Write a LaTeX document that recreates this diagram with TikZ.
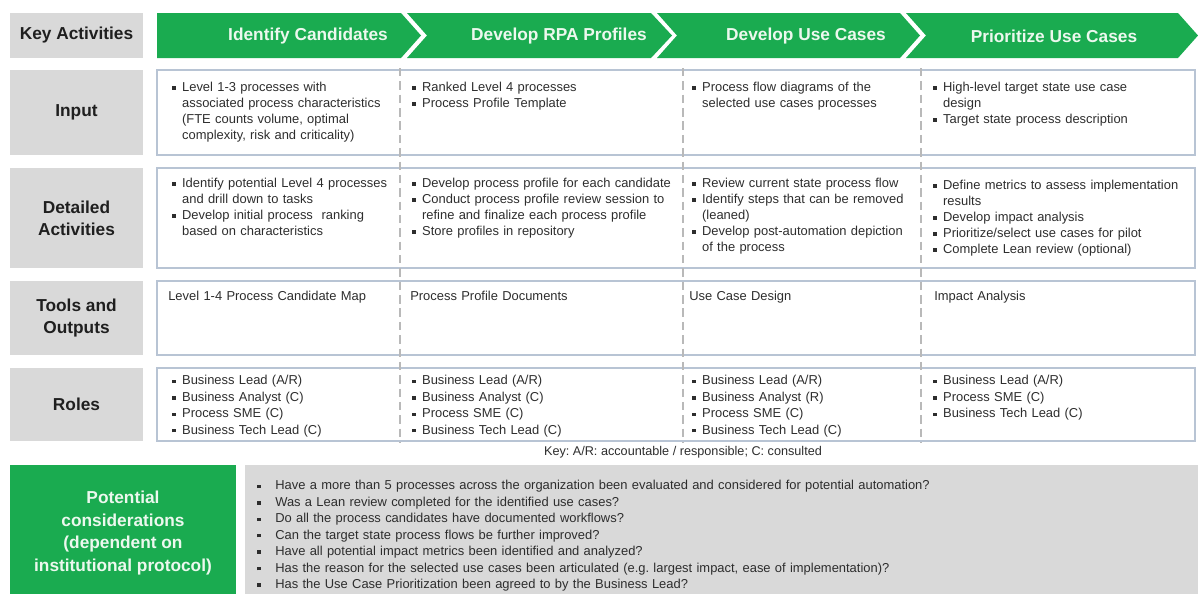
\documentclass[tikz,border=0pt]{standalone}
\usepackage{fontspec}
\setmainfont{Liberation Sans}
\usepackage{xcolor}
\definecolor{rpagreen}{RGB}{26,171,80}
\definecolor{rpagray}{RGB}{217,217,217}
\definecolor{rpaline}{RGB}{184,196,212}
\definecolor{rpatext}{RGB}{45,45,45}
\definecolor{rpahead}{RGB}{236,248,238}
\frenchspacing
\newcommand{\bitem}[1]{\par\hangindent=7pt\hangafter=1\noindent\makebox[7pt][l]{\raisebox{1.2pt}{\rule{2.4pt}{2.4pt}}}#1}
\newcommand{\qitem}[1]{\par\hangindent=12.8pt\hangafter=1\noindent\makebox[12.8pt][l]{\raisebox{1.2pt}{\rule{2.4pt}{2.4pt}}}#1}

\begin{document}
\begin{tikzpicture}[x=0.025cm,y=-0.025cm,
  lab/.style={font=\fontsize{12.3}{15.6}\selectfont\bfseries, align=center, text=black!88},
  head/.style={font=\fontsize{12.3}{15}\selectfont\bfseries, text=rpahead},
  cell/.style={anchor=north west, inner sep=0pt, text width=7cm, font=\fontsize{9.2}{11.4}\selectfont, text=rpatext},
  rowbox/.style={draw=rpaline, line width=0.85pt},
  divider/.style={draw=gray!55, line width=1pt, dash pattern=on 6pt off 3.5pt}]
\useasboundingbox (0,0) rectangle (1198,594);

\fill [rpagreen] (157,13) -- (401,13) -- (421,35.5) -- (401,58) -- (157,58) -- cycle;
\fill [rpagreen] (407,13) -- (651,13) -- (672,35.5) -- (651,58) -- (407,58) -- (427,35.5) -- cycle;
\fill [rpagreen] (657,13) -- (900,13) -- (920,35.5) -- (900,58) -- (657,58) -- (677,35.5) -- cycle;
\fill [rpagreen] (906,13) -- (1178,13) -- (1198,35.5) -- (1178,58) -- (906,58) -- (926,35.5) -- cycle;
\node [head] (identify) at (308,36) {Identify Candidates};
\node [head] (profiles) at (559,36) {Develop RPA Profiles};
\node [head] (usecases) at (806,36) {Develop Use Cases};
\node [head] (prioritize) at (1054,36) {Prioritize Use Cases};

\fill [rpagray] (10,13) rectangle (143,58);
\fill [rpagray] (10,70) rectangle (143,155);
\fill [rpagray] (10,168) rectangle (143,268);
\fill [rpagray] (10,281) rectangle (143,355);
\fill [rpagray] (10,368) rectangle (143,441);
\node [lab] (keyact) at (76.5,35.5) {Key Activities};
\node [lab] (input) at (76.5,112.5) {Input};
\node [lab] (detailed) at (76.5,218) {Detailed\\Activities};
\node [lab] (tools) at (76.5,318) {Tools and\\Outputs};
\node [lab] (roles) at (76.5,404.5) {Roles};

\draw [rowbox] (157,70) rectangle (1195,155);
\draw [rowbox] (157,168) rectangle (1195,268);
\draw [rowbox] (157,281) rectangle (1195,355);
\draw [rowbox] (157,368) rectangle (1195,441);
\draw [divider] (400,68) -- (400,443);
\draw [divider] (683,68) -- (683,443);
\draw [divider] (921,68) -- (921,443);

\node [cell] (in1) at (172,75) {\bitem{Level 1-3 processes with\newline associated process characteristics\newline (FTE counts volume, optimal\newline complexity, risk and criticality)}\par};
\node [cell] (in2) at (412,75) {\bitem{Ranked Level 4 processes}\bitem{Process Profile Template}\par};
\node [cell] (in3) at (692,75) {\bitem{Process flow diagrams of the\newline selected use cases processes}\par};
\node [cell] (in4) at (933,75) {\bitem{High-level target state use case\newline design}\bitem{Target state process description}\par};

\node [cell] (da1) at (172,171) {\bitem{Identify potential Level 4 processes\newline and drill down to tasks}\bitem{Develop initial process\ \ ranking\newline based on characteristics}\par};
\node [cell] (da2) at (412,171) {\bitem{Develop process profile for each candidate}\bitem{Conduct process profile review session to\newline refine and finalize each process profile}\bitem{Store profiles in repository}\par};
\node [cell] (da3) at (692,171) {\bitem{Review current state process flow}\bitem{Identify steps that can be removed\newline (leaned)}\bitem{Develop post-automation depiction\newline of the process}\par};
\node [cell] (da4) at (933,173) {\bitem{Define metrics to assess implementation\newline results}\bitem{Develop impact analysis}\bitem{Prioritize/select use cases for pilot}\bitem{Complete Lean review (optional)}\par};

\node [cell] (to1) at (168,291) {Level 1-4 Process Candidate Map};
\node [cell] (to2) at (410,291) {Process Profile Documents};
\node [cell] (to3) at (689,291) {Use Case Design};
\node [cell] (to4) at (934,291) {Impact Analysis};

\node [cell, font=\fontsize{9.2}{11.7}\selectfont] (ro1) at (172,368) {\bitem{Business Lead (A/R)}\bitem{Business Analyst (C)}\bitem{Process SME (C)}\bitem{Business Tech Lead (C)}\par};
\node [cell, font=\fontsize{9.2}{11.7}\selectfont] (ro2) at (412,368) {\bitem{Business Lead (A/R)}\bitem{Business Analyst (C)}\bitem{Process SME (C)}\bitem{Business Tech Lead (C)}\par};
\node [cell, font=\fontsize{9.2}{11.7}\selectfont] (ro3) at (692,368) {\bitem{Business Lead (A/R)}\bitem{Business Analyst (R)}\bitem{Process SME (C)}\bitem{Business Tech Lead (C)}\par};
\node [cell, font=\fontsize{9.2}{11.7}\selectfont] (ro4) at (933,368) {\bitem{Business Lead (A/R)}\bitem{Process SME (C)}\bitem{Business Tech Lead (C)}\par};

\node [font=\fontsize{9}{11}\selectfont, text=rpatext] (key) at (683,452) {Key: A/R: accountable / responsible; C: consulted};

\fill [rpagreen] (10,465) rectangle (236,594);
\fill [rpagray] (245,465) rectangle (1198,594);
\node [lab, text=rpahead, font=\fontsize{12.3}{16}\selectfont\bfseries] (potential) at (123,533) {Potential\\considerations\\(dependent on\\institutional protocol)};
\node [cell, text width=24cm, font=\fontsize{9.2}{11.7}\selectfont] (questions) at (257,473) {\qitem{Have a more than 5 processes across the organization been evaluated and considered for potential automation?}\qitem{Was a Lean review completed for the identified use cases?}\qitem{Do all the process candidates have documented workflows?}\qitem{Can the target state process flows be further improved?}\qitem{Have all potential impact metrics been identified and analyzed?}\qitem{Has the reason for the selected use cases been articulated (e.g. largest impact, ease of implementation)?}\qitem{Has the Use Case Prioritization been agreed to by the Business Lead?}\par};
\end{tikzpicture}
\end{document}
